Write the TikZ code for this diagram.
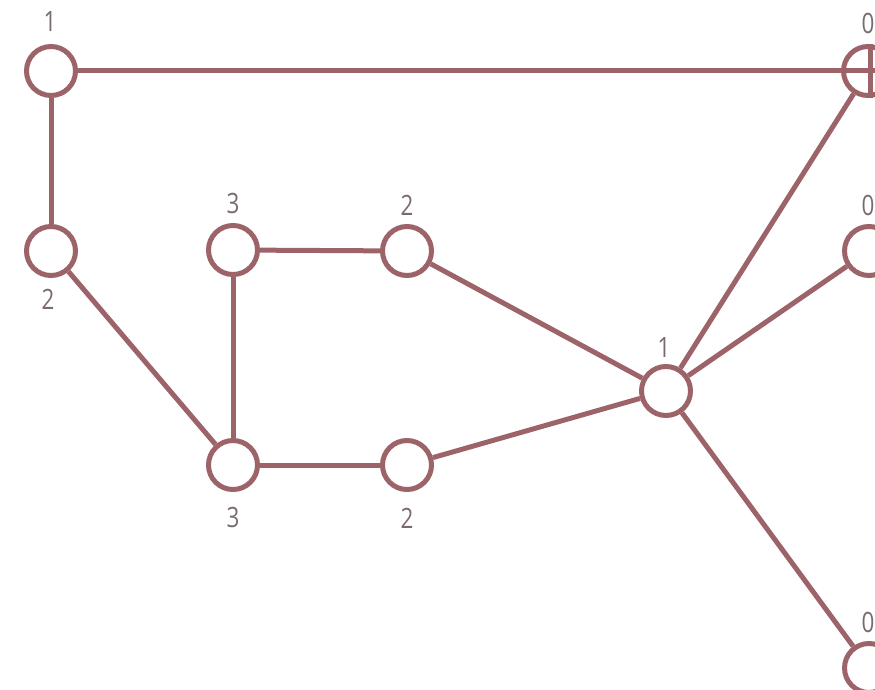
\documentclass[tikz,border=0pt]{standalone}
\usepackage{fontspec}
\setmainfont{Open Sans}[FakeStretch=0.8]
\definecolor{edgec}{HTML}{9C6368}
\definecolor{labc}{HTML}{7A6A6D}
\begin{document}
\begin{tikzpicture}[x=1pt,y=-1pt,
  vert/.style={circle,draw=edgec,line width=5pt,fill=white,minimum size=49pt,inner sep=0pt},
  edge/.style={draw=edgec,line width=5pt},
  lab/.style={text=labc,font=\fontsize{28}{30}\selectfont,inner sep=0pt}]
\useasboundingbox (0,0) rectangle (875,690);
\clip (0,0) rectangle (875,690);
\node[vert] (A) at (51,71) {};
\node[vert] (B) at (51,251) {};
\node[vert] (C) at (233,250) {};
\node[vert] (D) at (407,251) {};
\node[vert] (E) at (233,465) {};
\node[vert] (F) at (407,465) {};
\node[vert] (G) at (666,391) {};
\node[vert] (H) at (868,71) {};
\node[vert] (I) at (869,251) {};
\node[vert] (J) at (869,668) {};
\coordinate (Hr) at (875,71);
\draw[edge] (A) -- (Hr);
\path (H.north) ++(2,0) coordinate (Ht) (H.south) ++(2,0) coordinate (Hb);
\draw[edge] (Ht) -- (Hb);
\draw[edge] (A) -- (B);
\draw[edge] (B) -- (E);
\draw[edge] (C) -- (D);
\draw[edge] (C) -- (E);
\draw[edge] (E) -- (F);
\draw[edge] (D) -- (G);
\draw[edge] (F) -- (G);
\draw[edge] (G) -- (H);
\draw[edge] (G) -- (I);
\draw[edge] (G) -- (J);
\node[lab] (lA) at (50,22) {1};
\node[lab] (lB) at (48,299) {2};
\node[lab] (lC) at (233,203) {3};
\node[lab] (lD) at (407,205) {2};
\node[lab] (lE) at (233,517) {3};
\node[lab] (lF) at (407,518) {2};
\node[lab] (lG) at (664,348) {1};
\node[lab] (lH) at (868,23) {0};
\node[lab] (lI) at (868,205) {0};
\node[lab] (lJ) at (868,622) {0};
\end{tikzpicture}
\end{document}
